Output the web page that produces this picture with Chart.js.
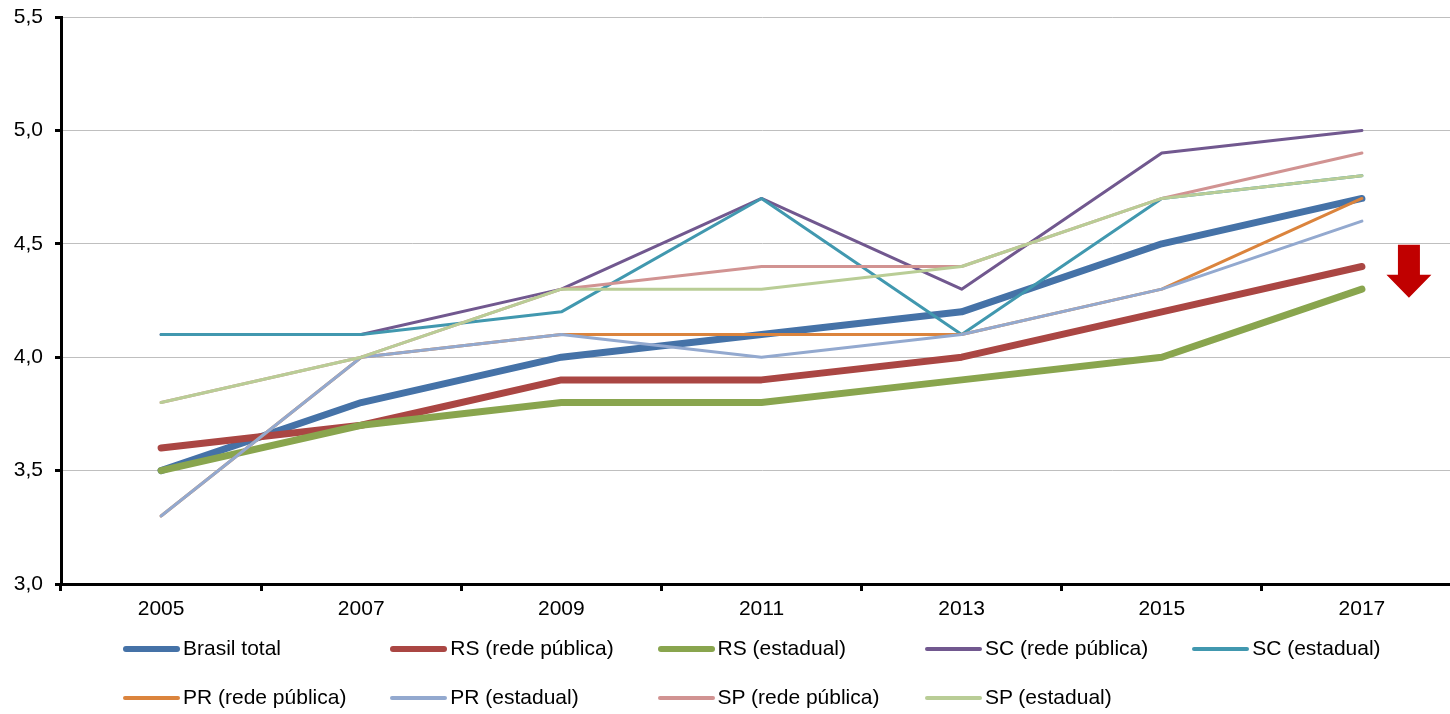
<!DOCTYPE html>
<html>
<head>
<meta charset="utf-8">
<script src="https://cdn.jsdelivr.net/npm/chart.js@4/dist/chart.umd.min.js"></script>
<style>
    html, body {
        margin: 0;
        padding: 0;
        background: #ffffff;
        overflow: hidden;
    }
    #wrap {
        position: relative;
        width: 1450px;
        height: 714px;
        overflow: hidden;
    }
    #box {
        position: absolute;
        left: 0;
        top: 0;
        width: 1470px;
        height: 714px;
    }
    .leg-item {
        position: absolute;
        height: 26px;
        font-family: 'Liberation Sans', Arial, sans-serif;
        font-size: 21px;
        color: #000;
        white-space: nowrap;
        line-height: 26px;
    }
    .leg-line {
        position: absolute;
        left: 0;
        width: 57px;
        border-radius: 4px;
    }
    .leg-text {
        position: absolute;
        left: 60px;
        top: 0;
    }
</style>
</head>
<body>
<div id="wrap">
    <div id="box"><canvas id="chart"></canvas></div>
    <div id="legend"></div>
</div>
<script>
// Data
var years = ['2005', '2007', '2009', '2011', '2013', '2015', '2017'];

var brasilTotal = [3.5, 3.8, 4.0, 4.1, 4.2, 4.5, 4.7];
var rsRede      = [3.6, 3.7, 3.9, 3.9, 4.0, 4.2, 4.4];
var rsEstadual  = [3.5, 3.7, 3.8, 3.8, 3.9, 4.0, 4.3];
var scRede      = [4.1, 4.1, 4.3, 4.7, 4.3, 4.9, 5.0];
var scEstadual  = [4.1, 4.1, 4.2, 4.7, 4.1, 4.7, 4.8];
var prRede      = [3.3, 4.0, 4.1, 4.1, 4.1, 4.3, 4.7];
var prEstadual  = [3.3, 4.0, 4.1, 4.0, 4.1, 4.3, 4.6];
var spRede      = [3.8, 4.0, 4.3, 4.4, 4.4, 4.7, 4.9];
var spEstadual  = [3.8, 4.0, 4.3, 4.3, 4.4, 4.7, 4.8];

var seriesNames = [
    'Brasil total', 'RS (rede pública)', 'RS (estadual)', 'SC (rede pública)', 'SC (estadual)',
    'PR (rede pública)', 'PR (estadual)', 'SP (rede pública)', 'SP (estadual)'
];
var seriesValues = [brasilTotal, rsRede, rsEstadual, scRede, scEstadual, prRede, prEstadual, spRede, spEstadual];

var yTicks = [3.0, 3.5, 4.0, 4.5, 5.0, 5.5];

// styles
var colors = ['#4572A7', '#AA4643', '#89A54E', '#71588F', '#4198AF', '#DB843D', '#93A9CF', '#D19392', '#B9CD96'];
var widths = [7, 7, 7, 3, 3, 3, 3, 3, 3];

var FONT = "'Liberation Sans', Arial, sans-serif";

var datasets = seriesNames.map(function(name, i) {
    return {
        label: name,
        data: seriesValues[i],
        borderColor: colors[i],
        backgroundColor: colors[i],
        borderWidth: widths[i],
        borderCapStyle: 'round',
        borderJoinStyle: 'round',
        pointRadius: 0,
        pointHoverRadius: 0,
        tension: 0,
        fill: false,
        // later series sit on top, like in Excel
        order: -i
    };
});

// red "down" arrow to the right of the last category
var arrowPlugin = {
    id: 'downArrow',
    afterDatasetsDraw: function(chart) {
        var ctx = chart.ctx;
        var xs = chart.scales.x;
        var ys = chart.scales.y;
        var cx = xs.getPixelForValue(years.length - 1) + 47;
        var top = ys.getPixelForValue(4.5) + 1;
        var shaftBottom = top + 30;
        var tip = top + 53;
        ctx.save();
        ctx.fillStyle = '#C00000';
        ctx.beginPath();
        ctx.moveTo(cx - 11, top);
        ctx.lineTo(cx + 11, top);
        ctx.lineTo(cx + 11, shaftBottom);
        ctx.lineTo(cx + 22.5, shaftBottom);
        ctx.lineTo(cx, tip);
        ctx.lineTo(cx - 22.5, shaftBottom);
        ctx.lineTo(cx - 11, shaftBottom);
        ctx.closePath();
        ctx.fill();
        ctx.restore();
    }
};

var chart = new Chart(document.getElementById('chart'), {
    type: 'line',
    data: {
        labels: years,
        datasets: datasets
    },
    options: {
        responsive: true,
        maintainAspectRatio: false,
        animation: false,
        events: [],
        layout: {
            padding: { top: 17, right: 8, bottom: 0, left: 0 }
        },
        plugins: {
            legend: { display: false },
            tooltip: { enabled: false }
        },
        scales: {
            x: {
                type: 'category',
                offset: true,
                afterFit: function(scale) {
                    scale.height = 130;
                },
                grid: {
                    offset: true,
                    drawOnChartArea: false,
                    drawTicks: true,
                    tickLength: 7,
                    tickColor: '#000000',
                    tickWidth: 3
                },
                border: { color: '#000000', width: 3 },
                ticks: {
                    color: '#000000',
                    font: { family: FONT, size: 21 },
                    padding: 6,
                    maxRotation: 0,
                    autoSkip: false
                }
            },
            y: {
                min: 3,
                max: 5.5,
                afterFit: function(scale) {
                    scale.width = 61;
                    // let the top label hang over the padding instead of pushing the plot down
                    scale.paddingTop = 0;
                    scale.paddingBottom = 0;
                },
                afterBuildTicks: function(scale) {
                    scale.ticks = yTicks.map(function(v) { return { value: v }; });
                },
                grid: {
                    color: '#BFBFBF',
                    lineWidth: 1,
                    drawTicks: true,
                    tickLength: 6,
                    tickColor: '#000000',
                    tickWidth: 3
                },
                border: { color: '#000000', width: 3 },
                ticks: {
                    color: '#000000',
                    font: { family: FONT, size: 21 },
                    padding: 12,
                    callback: function(value) {
                        return Number(value).toFixed(1).replace('.', ',');
                    }
                }
            }
        }
    },
    plugins: [arrowPlugin]
});

// Excel-like legend: five fixed columns, two rows
var legend = document.getElementById('legend');
seriesNames.forEach(function(name, i) {
    var col = i % 5;
    var row = Math.floor(i / 5);
    var item = document.createElement('div');
    item.className = 'leg-item';
    item.style.left = (123 + col * 267.3) + 'px';
    item.style.top = (635 + row * 49) + 'px';
    var line = document.createElement('div');
    line.className = 'leg-line';
    var h = widths[i] > 4 ? 6 : 3.5;
    line.style.height = h + 'px';
    line.style.top = (14 - h / 2) + 'px';
    line.style.background = colors[i];
    var text = document.createElement('span');
    text.className = 'leg-text';
    text.textContent = name;
    item.appendChild(line);
    item.appendChild(text);
    legend.appendChild(item);
});
</script>
</body>
</html>
